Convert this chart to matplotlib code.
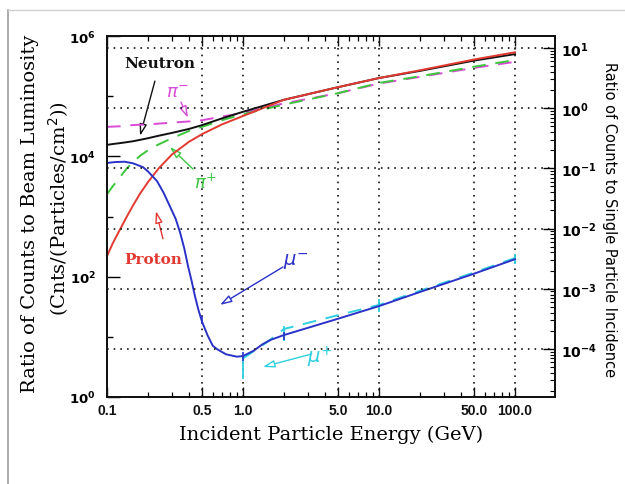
import matplotlib
matplotlib.use("Agg")
import matplotlib.pyplot as plt
from matplotlib.ticker import FixedLocator, NullFormatter, LogLocator
from matplotlib.lines import Line2D

plt.rcParams["mathtext.fontset"] = "dejavusans"

# ---------------- data ----------------
energy_hadron = [0.1, 0.11, 0.125, 0.14, 0.155, 0.175, 0.2, 0.24, 0.3, 0.4, 0.5, 0.7, 1.0, 2.0, 5.0, 10.0, 20.0, 50.0, 100.0]
neutron = [1.55e4, 1.6e4, 1.66e4, 1.72e4, 1.78e4, 1.88e4, 2.0e4, 2.2e4, 2.45e4, 2.85e4, 3.3e4, 4.27e4, 5.5e4, 8.7e4, 1.41e5, 2.0e5, 2.63e5, 3.9e5, 5.0e5]
proton = [219, 355, 617, 1000, 1510, 2400, 3720, 6310, 1.07e4, 1.74e4, 2.34e4, 3.39e4, 4.68e4, 8.7e4, 1.41e5, 2.0e5, 2.69e5, 4.07e5, 5.37e5]
pi_minus = [3.09e4, 3.12e4, 3.16e4, 3.24e4, 3.31e4, 3.35e4, 3.39e4, 3.5e4, 3.63e4, 3.8e4, 3.98e4, 4.57e4, 5.25e4, 7.59e4, 1.12e5, 1.62e5, 2.09e5, 2.95e5, 3.72e5]
pi_plus = [2340, 3160, 4570, 6310, 7940, 1.02e4, 1.26e4, 1.58e4, 2.0e4, 2.63e4, 3.09e4, 3.98e4, 5.01e4, 7.24e4, 1.12e5, 1.66e5, 2.14e5, 3.09e5, 3.98e5]

energy_mu_minus = [0.1, 0.115, 0.135, 0.155, 0.184, 0.2, 0.233, 0.26, 0.29, 0.32, 0.344, 0.37, 0.394, 0.42, 0.443, 0.47,
                   0.5, 0.55, 0.6, 0.65, 0.75, 0.9, 1.0, 1.2, 1.4, 1.6, 2.0, 5.0, 10.0, 20.0, 50.0, 100.0]
mu_minus = [7760, 8040, 8130, 7670, 6610, 5620, 3890, 2510, 1480, 912, 550, 295, 151, 83, 47.9, 28.2,
            17.8, 10.5, 7.08, 6.17, 5.13, 4.68, 4.79, 5.89, 7.59, 8.91, 10.7, 20.0, 32.4, 55.6, 112, 195]

energy_mu_plus = [1.0, 1.5, 2.0, 5.0, 10.0, 20.0, 50.0, 100.0]
mu_plus = [4.37, 8.13, 13.5, 22.9, 33.9, 58.2, 117, 204]

mu_plus_err_energy = [1.0, 2.0, 10.0, 100.0]
mu_plus_err_low = [2.0, 8.5, 26, 162]
mu_plus_err_high = [5.0, 15, 42, 240]

mu_minus_err_energy = [0.5, 1.0, 2.0]
mu_minus_err_low = [16.2, 3.9, 8.7]
mu_minus_err_high = [22.4, 5.6, 12.0]

x_tick_values = [0.1, 0.5, 1.0, 5.0, 10.0, 50.0, 100.0]
x_tick_labels = ["0.1", "0.5", "1.0", "5.0", "10.0", "50.0", "100.0"]
grid_x = [0.5, 1.0, 5.0, 10.0, 50.0, 100.0]
left_label_decades = [1e0, 1e2, 1e4, 1e6]
left_tick_labels = [r"$\mathbf{10^{0}}$", r"$\mathbf{10^{2}}$", r"$\mathbf{10^{4}}$", r"$\mathbf{10^{6}}$"]
left_minor_decades = [1e1, 1e3, 1e5]
right_decades = [1e1, 1e0, 1e-1, 1e-2, 1e-3, 1e-4]
right_tick_labels = [r"$\mathbf{10^{1}}$", r"$\mathbf{10^{0}}$", r"$\mathbf{10^{-1}}$",
                     r"$\mathbf{10^{-2}}$", r"$\mathbf{10^{-3}}$", r"$\mathbf{10^{-4}}$"]

# ---------------- style ----------------
C_BLACK = "#111111"
C_RED = "#e23a32"
C_MAG = "#d94bd6"
C_GREEN = "#3cc63c"
C_BLUE = "#2a32c8"
C_CYAN = "#2fd0e0"

fig = plt.figure(figsize=(6.25, 4.85), dpi=100)
W, H = 625, 485

# slide-like border lines
fig.add_artist(Line2D([8 / W, 8 / W], [0, 1 - 11 / H], transform=fig.transFigure, color="#a0a0a0", lw=1.2))
fig.add_artist(Line2D([8 / W, 1], [1 - 11 / H, 1 - 11 / H], transform=fig.transFigure, color="#cfcfcf", lw=1.0))

ax = fig.add_axes([107 / W, 1 - 398 / H, (555 - 107) / W, (398 - 37) / H])
ax.set_xscale("log")
ax.set_yscale("log")
ax.set_xlim(0.1, 197)
ax.set_ylim(1, 1e6)

dot = (0, (0.9, 2.8))
for gx in grid_x:
    ax.axvline(gx, color="#222222", lw=1.3, linestyle=dot, zorder=1)

ax2 = ax.twinx()
ax2.set_yscale("log")
ax2.set_ylim(10 ** -4.8, 10 ** 1.2)
for gy in right_decades:
    ax2.axhline(gy, color="#222222", lw=1.3, linestyle=dot, zorder=1)

# curves
ax.plot(energy_hadron, neutron, color=C_BLACK, lw=1.4, zorder=5)
ax.plot(energy_hadron, proton, color=C_RED, lw=1.4, zorder=5)
ax.plot(energy_hadron, pi_minus, color=C_MAG, lw=1.4, dashes=(7, 5), zorder=4)
ax.plot(energy_hadron, pi_plus, color=C_GREEN, lw=1.4, dashes=(7, 5), zorder=4)
ax.plot(energy_mu_plus, mu_plus, color=C_CYAN, lw=1.4, dashes=(7, 5), zorder=4)
ax.plot(energy_mu_minus, mu_minus, color=C_BLUE, lw=1.4, zorder=5)
ax.vlines(mu_plus_err_energy, mu_plus_err_low, mu_plus_err_high, color=C_CYAN, lw=1.3, zorder=4)
ax.vlines(mu_minus_err_energy, mu_minus_err_low, mu_minus_err_high, color=C_BLUE, lw=1.2, zorder=5)

# ticks - x
tick_font = dict(family="Liberation Sans", weight="bold", size=10)
ax.xaxis.set_major_locator(FixedLocator(x_tick_values))
ax.set_xticklabels(x_tick_labels, fontdict=tick_font)
ax.xaxis.set_minor_locator(LogLocator(base=10, subs=(2, 3, 4, 5, 6, 7, 8, 9), numticks=20))
ax.xaxis.set_minor_formatter(NullFormatter())
ax.tick_params(axis="x", which="major", direction="in", length=7, width=1.0, top=True, pad=4, colors="#111111")
ax.tick_params(axis="x", which="minor", direction="in", length=3.5, width=0.9, top=True)

# ticks - left y
ax.yaxis.set_major_locator(FixedLocator(left_label_decades))
ax.set_yticklabels(left_tick_labels)
ax.yaxis.set_minor_locator(FixedLocator(left_minor_decades))
ax.yaxis.set_minor_formatter(NullFormatter())
ax.tick_params(axis="y", which="major", direction="in", length=9, width=1.0, right=False, pad=8, labelsize=9.5)
ax.tick_params(axis="y", which="minor", direction="in", length=4.5, width=1.0, right=False)

# ticks - right y
ax2.yaxis.set_major_locator(FixedLocator(right_decades))
ax2.set_yticklabels(right_tick_labels)
ax2.yaxis.set_minor_locator(LogLocator(base=10, subs=(2, 3, 4, 5, 6, 7, 8, 9), numticks=20))
ax2.yaxis.set_minor_formatter(NullFormatter())
ax2.tick_params(axis="y", which="major", direction="in", length=8.5, width=1.0, pad=4, labelsize=10)
ax2.tick_params(axis="y", which="minor", direction="in", length=3.5, width=0.8)

for a in (ax, ax2):
    for s in a.spines.values():
        s.set_linewidth(1.3)
        s.set_color("#111111")

# axis labels
ax.set_xlabel("Incident Particle Energy (GeV)", family="DejaVu Serif", size=14, labelpad=6)
fig.text(30 / W, 1 - 214 / H, "Ratio of Counts to Beam Luminosity", family="DejaVu Serif",
         size=14, rotation=90, ha="center", va="center")
fig.text(59 / W, 1 - 209 / H, r"(Cnts/(Particles/cm$^{2}$))", family="DejaVu Serif",
         size=14, rotation=90, ha="center", va="center")
fig.text(610 / W, 1 - 220 / H, "Ratio of Counts to Single Particle Incidence", family="DejaVu Sans",
         size=10.5, rotation=270, ha="center", va="center")

# annotations
arrow = dict(arrowstyle="-|>,head_length=0.7,head_width=0.22", lw=1.0, shrinkA=0, shrinkB=0)

ax.text(0.245, 3.56e5, "Neutron", color=C_BLACK, family="DejaVu Serif", weight="bold",
        size=11, ha="center", va="center")
ax.annotate("", xy=(0.175, 2.19e4), xytext=(0.225, 1.78e5),
            arrowprops=dict(arrow, color=C_BLACK, fc="white"))

ax.text(0.327, 1.17e5, r"$\pi^{-}$", color=C_MAG, size=13, ha="center", va="center")
ax.annotate("", xy=(0.394, 4.37e4), xytext=(0.35, 7.94e4),
            arrowprops=dict(arrow, color=C_MAG, fc="white"))

ax.text(0.53, 3.7e3, r"$\pi^{+}$", color=C_GREEN, size=13, ha="center", va="center")
ax.annotate("", xy=(0.29, 1.43e4), xytext=(0.428, 6.17e3),
            arrowprops=dict(arrow, color=C_GREEN, fc="white"))

ax.text(0.218, 195, "Proton", color=C_RED, family="DejaVu Serif", weight="bold",
        size=11, ha="center", va="center")
ax.annotate("", xy=(0.229, 1230), xytext=(0.258, 427),
            arrowprops=dict(arrow, color=C_RED, fc="white"))

ax.text(2.45, 182, r"$\mu^{-}$", color=C_BLUE, size=14, ha="center", va="center")
ax.annotate("", xy=(0.678, 33.9), xytext=(1.97, 145),
            arrowprops=dict(arrow, color=C_BLUE, fc="white"))

ax.text(3.68, 4.8, r"$\mu^{+}$", color=C_CYAN, size=14, ha="center", va="center")
ax.annotate("", xy=(1.40, 3.16), xytext=(3.2, 5.19),
            arrowprops=dict(arrow, color=C_CYAN, fc="white"))

fig.savefig("out.png", dpi=100)
